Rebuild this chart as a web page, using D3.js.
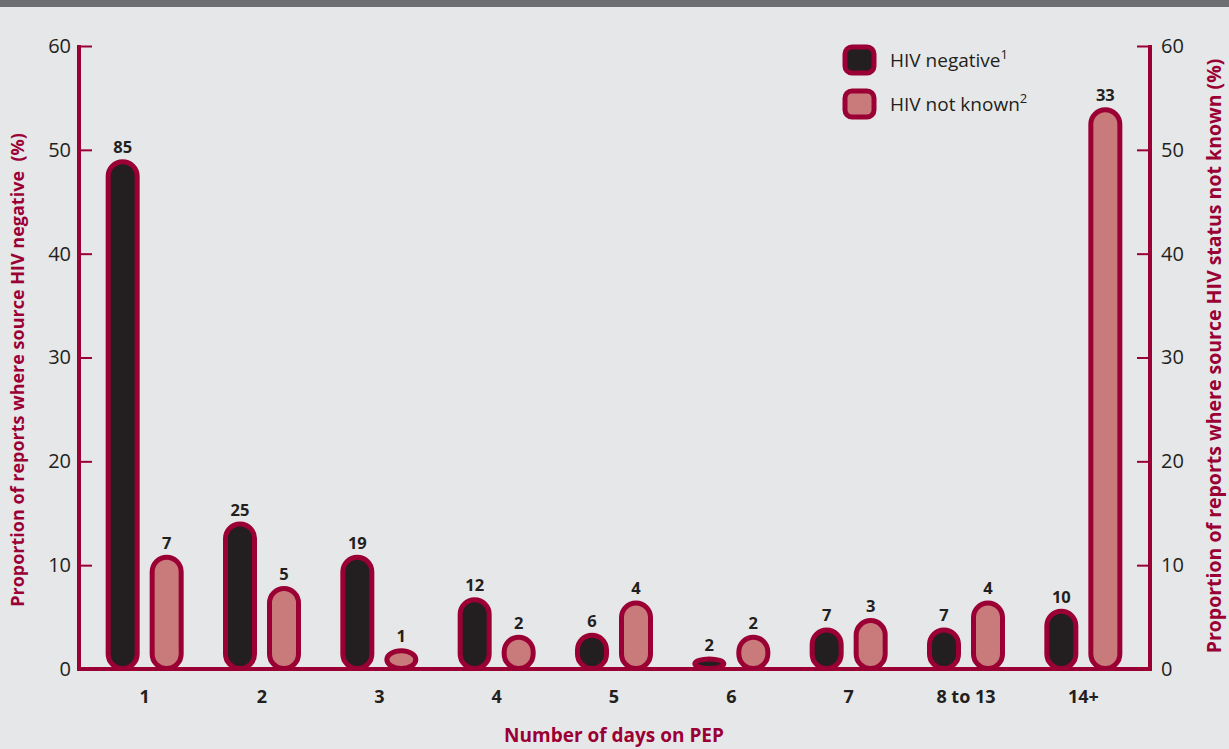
<!DOCTYPE html>
<html>
<head>
<meta charset="utf-8">
<script src="https://cdn.jsdelivr.net/npm/d3@7"></script>
<style>
  body { margin: 0; background: #e6e7e8; }
  svg { display: block; font-family: "Open Sans", sans-serif; }
</style>
</head>
<body>
<svg></svg>
<script>
const svgWidth = 1229;
const svgHeight = 749;

// chart data
const categories = ["1", "2", "3", "4", "5", "6", "7", "8 to 13", "14+"];
const negPct = [49.1, 14.2, 11.0, 6.9, 3.5, 1.2, 4.0, 4.0, 5.8];
const notKnownPct = [11.0, 8.0, 2.0, 3.3, 6.6, 3.3, 4.9, 6.6, 54.1];
const negCounts = [85, 25, 19, 12, 6, 2, 7, 7, 10];
const notKnownCounts = [7, 5, 1, 2, 4, 2, 3, 4, 33];
const yTicks = [0, 10, 20, 30, 40, 50, 60];
const seriesKeys = ["neg", "nk"];
const seriesLabels = ["HIV negative", "HIV not known"];
const seriesSup = ["1", "2"];

const red = "#9b0034";
const dark = "#231f20";
const pink = "#c97b7b";

const svg = d3.select("svg")
  .attr("width", svgWidth)
  .attr("height", svgHeight);

svg.append("rect")
  .attr("width", svgWidth).attr("height", svgHeight)
  .attr("fill", "#e6e7e8");
svg.append("rect")
  .attr("width", svgWidth).attr("height", 7)
  .attr("fill", "#6d6e71");

const plotLeft = 79, plotRight = 1150, plotBottom = 669, plotTop = 46;

const xScale = d3.scaleBand()
  .domain(categories)
  .range([86, 1142]);
const xInner = d3.scalePoint()
  .domain(seriesKeys)
  .range([-22, 22]);
const yScale = d3.scaleLinear()
  .domain([0, 60])
  .range([plotBottom, plotTop]);

const rows = categories.map((c, i) => ({
  cat: c,
  vals: [
    { key: "neg", v: negPct[i], n: negCounts[i] },
    { key: "nk", v: notKnownPct[i], n: notKnownCounts[i] }
  ]
}));

// bars
const barW = 29;
const groups = svg.append("g")
  .selectAll("g")
  .data(rows)
  .enter()
  .append("g")
  .attr("transform", d => `translate(${xScale(d.cat) + xScale.bandwidth() / 2},0)`);

groups.selectAll("rect")
  .data(d => d.vals)
  .enter()
  .append("rect")
  .attr("x", d => xInner(d.key) - barW / 2)
  .attr("y", d => yScale(d.v) + 2.5)
  .attr("width", barW)
  .attr("height", d => plotBottom - yScale(d.v) - 3)
  .attr("rx", barW / 2)
  .attr("fill", d => d.key === "neg" ? dark : pink)
  .attr("stroke", red)
  .attr("stroke-width", 5);

groups.selectAll("text")
  .data(d => d.vals)
  .enter()
  .append("text")
  .text(d => d.n)
  .attr("x", d => xInner(d.key))
  .attr("y", d => yScale(d.v) - 6)
  .attr("text-anchor", "middle")
  .attr("font-size", 16.5)
  .attr("font-weight", "bold")
  .attr("fill", dark);

// axes
const yAxisL = d3.axisLeft(yScale)
  .tickValues(yTicks)
  .tickSize(-13)
  .tickSizeOuter(0)
  .tickPadding(8);
const yAxisR = d3.axisRight(yScale)
  .tickValues(yTicks)
  .tickSize(-13)
  .tickSizeOuter(0)
  .tickPadding(11);

function styleAxis(g) {
  g.select(".domain").remove();
  g.selectAll(".tick line").attr("stroke", red).attr("stroke-width", 2);
  g.selectAll(".tick text")
    .attr("font-size", 20)
    .attr("font-family", "'Open Sans', sans-serif")
    .attr("fill", dark);
  g.selectAll(".tick").filter(d => d === 0).select("line").remove();
}

svg.append("g")
  .attr("transform", `translate(${plotLeft},0)`)
  .call(yAxisL)
  .call(styleAxis);
svg.append("g")
  .attr("transform", `translate(${plotRight},0)`)
  .call(yAxisR)
  .call(styleAxis);

// axis frame lines
svg.append("line")
  .attr("x1", plotLeft).attr("x2", plotLeft)
  .attr("y1", plotTop - 1).attr("y2", plotBottom + 2)
  .attr("stroke", red).attr("stroke-width", 4);
svg.append("line")
  .attr("x1", plotRight).attr("x2", plotRight)
  .attr("y1", plotTop - 1).attr("y2", plotBottom + 2)
  .attr("stroke", red).attr("stroke-width", 4);
svg.append("line")
  .attr("x1", plotLeft - 2).attr("x2", plotRight + 2)
  .attr("y1", plotBottom).attr("y2", plotBottom)
  .attr("stroke", red).attr("stroke-width", 4);

// category labels
svg.append("g")
  .selectAll("text")
  .data(categories)
  .enter()
  .append("text")
  .text(d => d)
  .attr("x", d => xScale(d) + xScale.bandwidth() / 2)
  .attr("y", 703)
  .attr("text-anchor", "middle")
  .attr("font-size", 18)
  .attr("font-weight", "bold")
  .attr("fill", dark);

// axis titles
svg.append("text")
  .text("Number of days on PEP")
  .attr("x", 614)
  .attr("y", 742)
  .attr("text-anchor", "middle")
  .attr("font-size", 19)
  .attr("font-weight", "bold")
  .attr("fill", red);

svg.append("text")
  .text("Proportion of reports where source HIV negative\u00a0 (%)")
  .attr("transform", "rotate(-90)")
  .attr("x", -370)
  .attr("y", 24)
  .attr("text-anchor", "middle")
  .attr("font-size", 18)
  .attr("font-weight", "bold")
  .attr("fill", red);

svg.append("text")
  .text("Proportion of reports where source HIV status not known (%)")
  .attr("transform", "rotate(-90)")
  .attr("x", -356)
  .attr("y", 1221)
  .attr("text-anchor", "middle")
  .attr("font-size", 19.5)
  .attr("font-weight", "bold")
  .attr("fill", red);

// legend
const legend = svg.append("g")
  .selectAll("g")
  .data(seriesKeys)
  .enter()
  .append("g")
  .attr("transform", (d, i) => `translate(845,${47 + i * 44})`);
legend.append("rect")
  .attr("width", 29).attr("height", 26)
  .attr("rx", 7)
  .attr("fill", d => d === "neg" ? dark : pink)
  .attr("stroke", red)
  .attr("stroke-width", 5);
const legText = legend.append("text")
  .attr("x", 45)
  .attr("y", 20)
  .attr("font-size", 19)
  .attr("fill", dark);
legText.append("tspan").text((d, i) => seriesLabels[i]);
legText.append("tspan")
  .text((d, i) => seriesSup[i])
  .attr("dy", -8)
  .attr("font-size", 13);
</script>
</body>
</html>
